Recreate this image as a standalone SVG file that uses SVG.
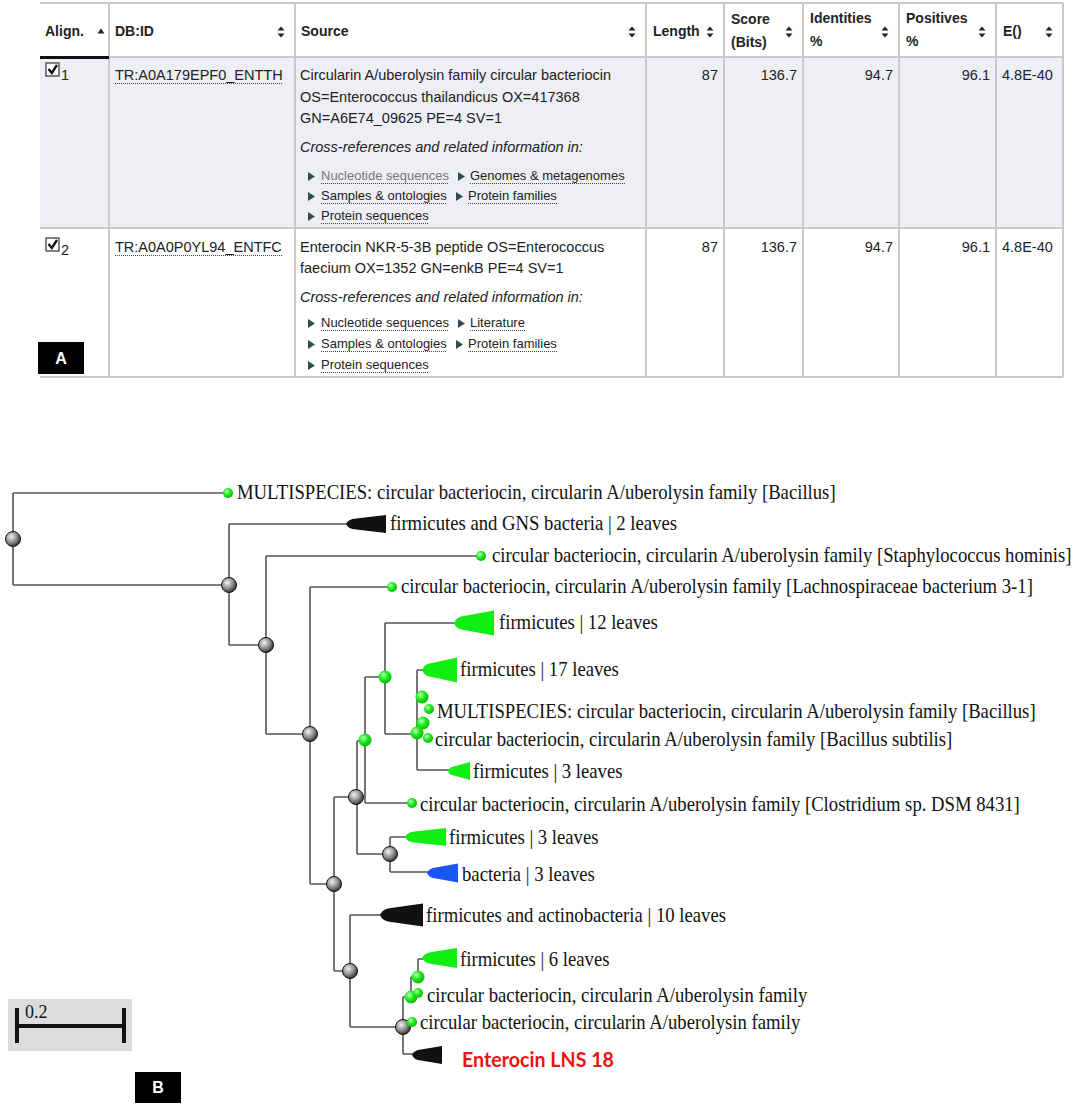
<svg xmlns="http://www.w3.org/2000/svg" width="1077" height="1105" viewBox="0 0 1077 1105">
<style>
.t{font-family:"Liberation Sans",Arial,sans-serif;font-size:14.5px;fill:#222}
.h{font-family:"Liberation Sans",Arial,sans-serif;font-size:14px;font-weight:bold;fill:#222}
.i{font-style:italic}
.lk{font-family:"Liberation Sans",Arial,sans-serif;font-size:13px;fill:#222}
.lkv{fill:#777}
.ul{stroke:#444;stroke-width:1;stroke-dasharray:1 1}
.bd{stroke:#c8c8c8;stroke-width:2;fill:none}
.arr{fill:#222}
.lt{fill:#2f4f4f}
.tr{font-family:"Liberation Serif","Times New Roman",serif;font-size:18.7px;fill:#111;transform-box:fill-box;transform-origin:50% 75%;transform:scaleY(1.1)}
.e{stroke:#555;stroke-width:1.6;fill:none}
.gn{fill:url(#gG);stroke:#111;stroke-width:1}
.in{fill:url(#gN)}
.lf{fill:url(#gN)}
.lbl{fill:#000}
.lblt{font-family:"Liberation Sans",Arial,sans-serif;font-size:16px;font-weight:bold;fill:#fff}
</style>
<defs>
<radialGradient id="gG" cx="0.38" cy="0.35" r="0.7"><stop offset="0" stop-color="#f2f2f2"/><stop offset="0.55" stop-color="#8c8c8c"/><stop offset="1" stop-color="#2a2a2a"/></radialGradient>
<radialGradient id="gN" cx="0.38" cy="0.35" r="0.7"><stop offset="0" stop-color="#c8ffc0"/><stop offset="0.45" stop-color="#22ee22"/><stop offset="1" stop-color="#00b400"/></radialGradient>
</defs>

<g id="table">
<rect x="40" y="58" width="1023" height="170" fill="#eeeef5"/>
<path class="bd" d="M40,3H1063M40,57H1063M40,228H1063M40,377H1063M109,3V377M295,3V377M646,3V377M724,3V377M803,3V377M899,3V377M996,3V377M1063,3V377"/>
<path d="M40,57.5H109" stroke="#111" stroke-width="3"/>
<g id="header">
<text class="h" x="45" y="36">Align.</text>
<polygon class="arr" points="97.5,33.5 104.5,33.5 101,28.5"/>
<text class="h" x="115" y="36">DB:ID</text>
<text class="h" x="301" y="36">Source</text>
<text class="h" x="653" y="36">Length</text>
<text class="h" x="731" y="24">Score</text>
<text class="h" x="731" y="47">(Bits)</text>
<text class="h" x="810" y="23">Identities</text>
<text class="h" x="810" y="46">%</text>
<text class="h" x="906" y="23">Positives</text>
<text class="h" x="906" y="46">%</text>
<text class="h" x="1003" y="36">E()</text>
<g class="arr">
<path d="M277.5,30.5h7l-3.5,-4zM277.5,33.5h7l-3.5,4z"/>
<path d="M628.5,30.5h7l-3.5,-4zM628.5,33.5h7l-3.5,4z"/>
<path d="M706.5,30.5h7l-3.5,-4zM706.5,33.5h7l-3.5,4z"/>
<path d="M785.5,30.5h7l-3.5,-4zM785.5,33.5h7l-3.5,4z"/>
<path d="M881.5,30.5h7l-3.5,-4zM881.5,33.5h7l-3.5,4z"/>
<path d="M978.5,30.5h7l-3.5,-4zM978.5,33.5h7l-3.5,4z"/>
<path d="M1045.5,30.5h7l-3.5,-4zM1045.5,33.5h7l-3.5,4z"/>
</g>
</g>
<g id="row1">
<rect x="46" y="63" width="13" height="13" fill="#fff" stroke="#333" stroke-width="1.2"/>
<path d="M48.5,69 L51.8,73 L57,65" stroke="#111" stroke-width="2.3" fill="none"/>
<text class="t" x="61" y="80">1</text>
<text class="t" x="115" y="80" fill="#333">TR:A0A179EPF0_ENTTH</text>
<line class="ul" x1="115" y1="83.5" x2="283" y2="83.5"/>
<text class="t" x="300" y="80">Circularin A/uberolysin family circular bacteriocin</text>
<text class="t" x="300" y="102">OS=Enterococcus thailandicus OX=417368</text>
<text class="t" x="300" y="123">GN=A6E74_09625 PE=4 SV=1</text>
<text class="t i" x="300" y="152">Cross-references and related information in:</text>
<path class="lt" d="M308,172v9l7,-4.5zM458,172v9l7,-4.5zM308,192v9l7,-4.5zM456,192v9l7,-4.5zM308,212v9l7,-4.5z"/>
<text class="lk lkv" x="321" y="180">Nucleotide sequences</text>
<text class="lk" x="470" y="180">Genomes &amp; metagenomes</text>
<text class="lk" x="321" y="200">Samples &amp; ontologies</text>
<text class="lk" x="468" y="200">Protein families</text>
<text class="lk" x="321" y="220">Protein sequences</text>
<path class="ul" d="M321,183.5H449M470,183.5H625M321,203.5H447M468,203.5H557M321,223.5H429"/>
<text class="t" x="718" y="80" text-anchor="end">87</text>
<text class="t" x="797" y="80" text-anchor="end">136.7</text>
<text class="t" x="893" y="80" text-anchor="end">94.7</text>
<text class="t" x="990" y="80" text-anchor="end">96.1</text>
<text class="t" x="1002" y="80">4.8E-40</text>
</g>
<g id="row2">
<rect x="46" y="238" width="13" height="13" fill="#fff" stroke="#333" stroke-width="1.2"/>
<path d="M48.5,244 L51.8,248 L57,240" stroke="#111" stroke-width="2.3" fill="none"/>
<text class="t" x="61" y="255">2</text>
<text class="t" x="115" y="252" fill="#333">TR:A0A0P0YL94_ENTFC</text>
<line class="ul" x1="115" y1="255.5" x2="282" y2="255.5"/>
<text class="t" x="300" y="252">Enterocin NKR-5-3B peptide OS=Enterococcus</text>
<text class="t" x="300" y="273">faecium OX=1352 GN=enkB PE=4 SV=1</text>
<text class="t i" x="300" y="302">Cross-references and related information in:</text>
<path class="lt" d="M308,319v9l7,-4.5zM458,319v9l7,-4.5zM308,340v9l7,-4.5zM456,340v9l7,-4.5zM308,361v9l7,-4.5z"/>
<text class="lk" x="321" y="327">Nucleotide sequences</text>
<text class="lk" x="470" y="327">Literature</text>
<text class="lk" x="321" y="348">Samples &amp; ontologies</text>
<text class="lk" x="468" y="348">Protein families</text>
<text class="lk" x="321" y="369">Protein sequences</text>
<path class="ul" d="M321,330.5H449M470,330.5H525M321,351.5H447M468,351.5H557M321,372.5H429"/>
<text class="t" x="718" y="252" text-anchor="end">87</text>
<text class="t" x="797" y="252" text-anchor="end">136.7</text>
<text class="t" x="893" y="252" text-anchor="end">94.7</text>
<text class="t" x="990" y="252" text-anchor="end">96.1</text>
<text class="t" x="1002" y="252">4.8E-40</text>
</g>
</g>

<g id="label-A"><rect class="lbl" x="38" y="342" width="46" height="32"/><text class="lblt" x="61" y="364" text-anchor="middle">A</text></g>

<g id="connectors">
<path class="e" d="M13,493V585M13,493H224M13,585H229
M229,524V645M229,524H347M229,645H266
M266,556V734M266,556H477M266,734H310
M310,587V884M310,587H388M310,884H334
M334,797V971M334,797H356M334,971H350
M357,741V854M357,741H365M357,854H390
M365,677V803M365,677H385M365,803H408
M385,623V734M385,623H455M385,734H417
M417,670V770M417,670H423M417,770H449M417,697H422M417,723H423
M390,837V872M390,837H406M390,872H428
M350,915V1027M350,915H381M350,1027H403
M403,997V1054M403,997H411M403,1054H413M403,1022H408
M411,977V997M411,977H418
M418,959V977M418,959H423"/>
</g>

<g id="collapsed">
<path id="c-gns" fill="#111" d="M346,524Q348,519 356,518.5L386,515V533L356,529.5Q348,529 346,524Z"/>
<path id="c-f12" fill="#11ee11" d="M454,623Q456,617 464,616L494,610.5V635.5L464,630Q456,629 454,623Z"/>
<path id="c-f17" fill="#11ee11" d="M422,670Q424,664 432,663L457,657.5V682.5L432,677Q424,676 422,670Z"/>
<path id="c-f3" fill="#11ee11" d="M448,771Q449,767 454,766.5L470,762V780L454,775.5Q449,775 448,771Z"/>
<path id="c-f3b" fill="#11ee11" d="M405,837Q407,832 415,831.5L446,828V846L415,842.5Q407,842 405,837Z"/>
<path id="c-bac" fill="#1a55f5" d="M427,873Q429,868 436,867.5L458,863.5V882.5L436,878.5Q429,878 427,873Z"/>
<path id="c-act" fill="#111" d="M380,915Q382,909 391,908L423,903.5V926.5L391,922Q382,921 380,915Z"/>
<path id="c-f6" fill="#11ee11" d="M422,958Q424,953 432,952L457,948V968L432,964Q424,963 422,958Z"/>
<path id="c-ent" fill="#111" d="M412,1055Q414,1050 421,1049.5L442,1046V1064L421,1060.5Q414,1060 412,1055Z"/>
</g>

<g id="internal-nodes">
<circle class="gn" cx="13" cy="539" r="7.5"/>
<circle class="gn" cx="229" cy="585" r="7.5"/>
<circle class="gn" cx="266" cy="645" r="7.5"/>
<circle class="gn" cx="310" cy="734" r="7.5"/>
<circle class="gn" cx="356" cy="797" r="7.5"/>
<circle class="gn" cx="390" cy="854" r="7.5"/>
<circle class="gn" cx="334" cy="884" r="7.5"/>
<circle class="gn" cx="350" cy="971" r="7.5"/>
<circle class="gn" cx="403" cy="1027" r="7.5"/>
<circle class="in" cx="385" cy="677" r="6.5"/>
<circle class="in" cx="365" cy="740" r="6.5"/>
<circle class="in" cx="422" cy="697" r="6.5"/>
<circle class="in" cx="423" cy="723" r="6.5"/>
<circle class="in" cx="417" cy="733" r="6.5"/>
<circle class="in" cx="418" cy="977" r="6.5"/>
<circle class="in" cx="411" cy="997" r="6.5"/>
</g>

<g id="leaves">
<circle class="lf" cx="228" cy="493" r="5"/>
<circle class="lf" cx="481" cy="556" r="5"/>
<circle class="lf" cx="392" cy="587" r="5"/>
<circle class="lf" cx="429" cy="709" r="5"/>
<circle class="lf" cx="428" cy="738" r="5"/>
<circle class="lf" cx="412" cy="803" r="5"/>
<circle class="lf" cx="418" cy="993" r="5"/>
<circle class="lf" cx="412" cy="1022" r="5"/>
</g>

<g id="tree-labels">
<text class="tr" x="237" y="499">MULTISPECIES: circular bacteriocin, circularin A/uberolysin family [Bacillus]</text>
<text class="tr" x="390" y="530">firmicutes and GNS bacteria | 2 leaves</text>
<text class="tr" x="492" y="562">circular bacteriocin, circularin A/uberolysin family [Staphylococcus hominis]</text>
<text class="tr" x="401" y="593">circular bacteriocin, circularin A/uberolysin family [Lachnospiraceae bacterium 3-1]</text>
<text class="tr" x="499" y="629">firmicutes | 12 leaves</text>
<text class="tr" x="460" y="676">firmicutes | 17 leaves</text>
<text class="tr" x="437" y="718">MULTISPECIES: circular bacteriocin, circularin A/uberolysin family [Bacillus]</text>
<text class="tr" x="435" y="746">circular bacteriocin, circularin A/uberolysin family [Bacillus subtilis]</text>
<text class="tr" x="473" y="778">firmicutes | 3 leaves</text>
<text class="tr" x="420" y="811">circular bacteriocin, circularin A/uberolysin family [Clostridium sp. DSM 8431]</text>
<text class="tr" x="449" y="844">firmicutes | 3 leaves</text>
<text class="tr" x="462" y="881">bacteria | 3 leaves</text>
<text class="tr" x="426" y="922">firmicutes and actinobacteria | 10 leaves</text>
<text class="tr" x="460" y="966">firmicutes | 6 leaves</text>
<text class="tr" x="427" y="1002">circular bacteriocin, circularin A/uberolysin family</text>
<text class="tr" x="420" y="1029">circular bacteriocin, circularin A/uberolysin family</text>
<text x="462" y="1067" font-family="Lato,'Liberation Sans',sans-serif" font-size="21" font-weight="bold" fill="#ee1111" textLength="152" lengthAdjust="spacingAndGlyphs">Enterocin LNS 18</text>
</g>

<g id="scale-bar">
<rect x="8" y="999" width="124" height="52" fill="#dcdcdc"/>
<path d="M17,1008V1043M124,1008V1043M17,1026H124" stroke="#111" stroke-width="4" fill="none"/>
<text x="25" y="1018" font-family="'Liberation Serif',serif" font-size="18" fill="#111">0.2</text>
</g>

<g id="label-B"><rect class="lbl" x="135" y="1072" width="46" height="31"/><text class="lblt" x="158" y="1093" text-anchor="middle">B</text></g>
</svg>
